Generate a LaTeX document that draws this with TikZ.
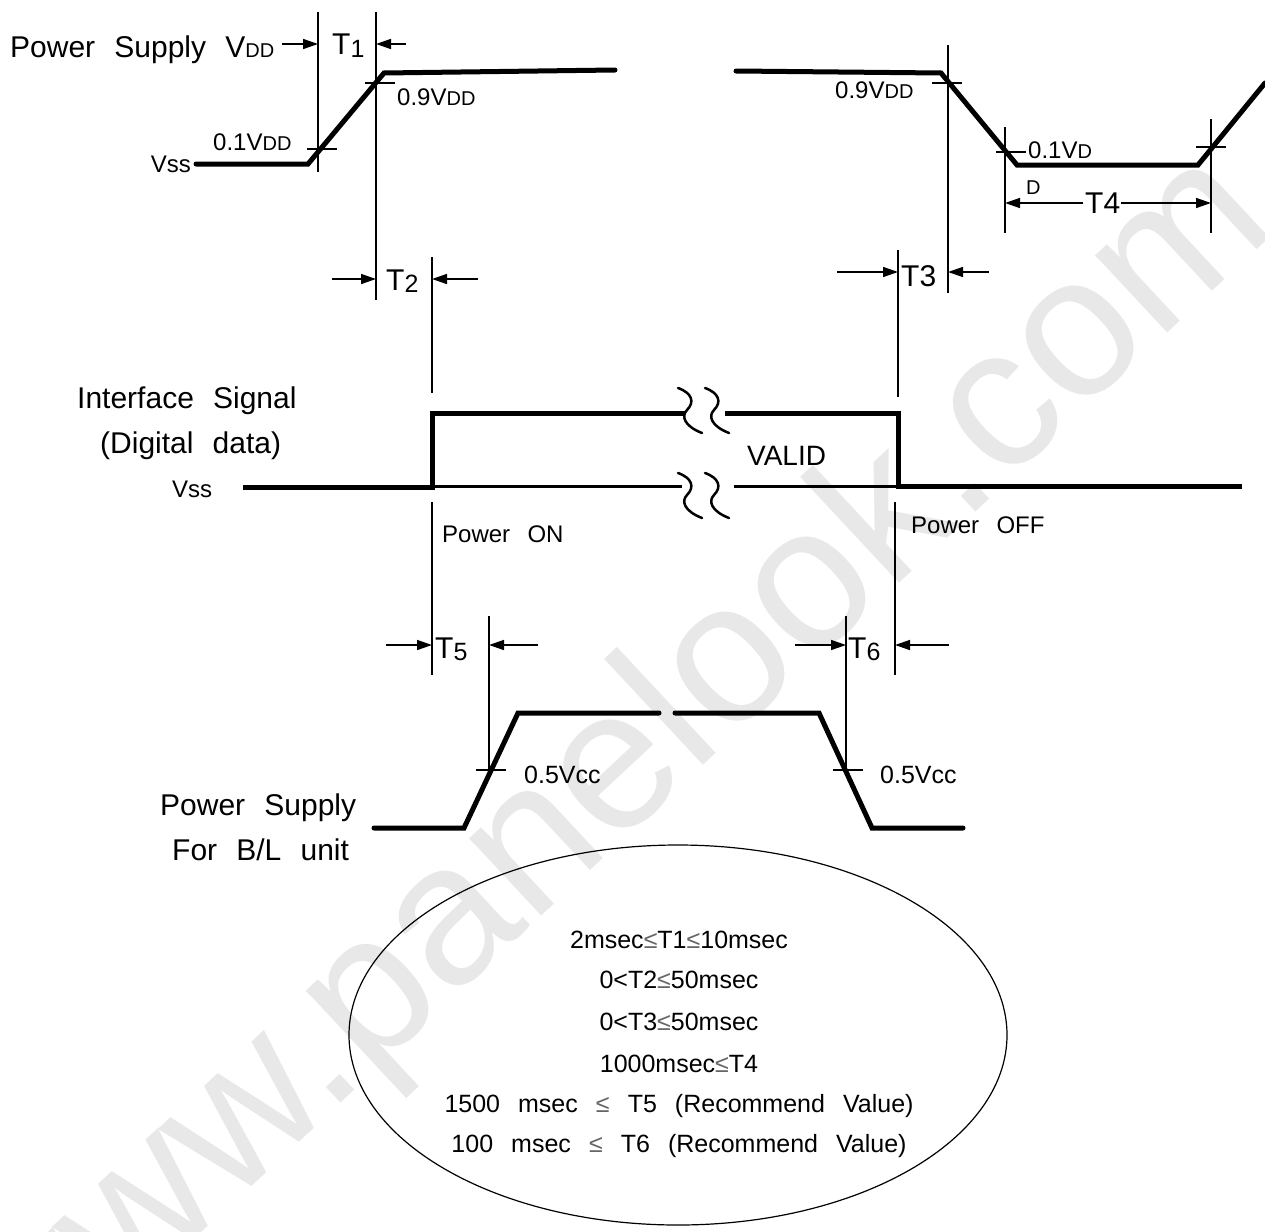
\documentclass[tikz,border=0pt]{standalone}
\usepackage{fontspec}
\setmainfont[WordSpace=2.6]{Liberation Sans}
\newfontfamily\widefont[WordSpace=2.3]{Liberation Sans}
\usetikzlibrary{arrows.meta}
\newcommand{\sub}[1]{{\fontsize{20}{21}\selectfont #1}}
\newcommand{\tsub}[1]{{\fontsize{25}{26}\selectfont\raisebox{-2pt}{#1}}}
\newcommand{\leqs}{{\color{black!60}≤}}
\tikzset{
  wave/.style={line width=5pt,line cap=round,line join=miter},
  datawave/.style={line width=5pt,line join=miter},
  guide/.style={line width=1.5pt},
  dimarrow/.style={-{Triangle[length=15pt,width=10pt]},line width=1.5pt},
  breakmark/.style={line width=2.5pt,line cap=round},
  smalllabel/.style={inner sep=0pt,anchor=base west,font=\fontsize{24}{28}\selectfont},
  biglabel/.style={inner sep=0pt,anchor=base west,font=\widefont\fontsize{30}{36}\selectfont},
  timelabel/.style={inner sep=0pt,anchor=base west,font=\fontsize{30}{36}\selectfont},
  limitline/.style={inner sep=0pt,anchor=base,font=\fontsize{25}{30}\selectfont},
  brk/.pic={\draw[breakmark] (0,0) .. controls (14,5) and (17,14) .. (9,22)
    .. controls (3,28) and (6,38) .. (24,45);}
}

\begin{document}
\begin{tikzpicture}[x=1pt,y=-1pt]
  \useasboundingbox (0,0) rectangle (1265,1231);
  % watermark
  \node[text=black!9,font=\fontsize{200}{200}\selectfont,rotate=43] (mark) at (614,778) {www.panelook.com};

  % power supply VDD
  \node[biglabel] (vddlabel) at (10,57) {Power Supply V\sub{DD}};
  \node[smalllabel,anchor=base east] (vsstop) at (191,172) {Vss};
  \draw[wave] (196,164) -- (308,164) -- (384,73) -- (615,70);
  \draw[wave] (736,71) -- (941,73) -- (1017,165) -- (1198,165) -- (1265,83);
  \draw[guide] (318,12) -- (318,172);
  \draw[guide] (376,12) -- (376,300);
  \draw[guide] (948,45) -- (948,293);
  \draw[guide] (1005,127) -- (1005,233);
  \draw[guide] (1211,119) -- (1211,233);
  \foreach \x/\y in {322/149,380/83,947/83,1011/152,1211/147,491/770,848/770}
    \draw[guide] (\x-15,\y) -- (\x+15,\y);
  \node[smalllabel] (lo1) at (213,150) {0.1V\sub{DD}};
  \node[smalllabel] (hi1) at (397,105) {0.9V\sub{DD}};
  \node[smalllabel] (hi2) at (835,98) {0.9V\sub{DD}};
  \node[smalllabel] (lo2) at (1028,158) {0.1V\sub{D}};
  \node[smalllabel] (lo2d) at (1026,194) {\sub{D}};

  % timing marks
  \draw[dimarrow] (282,44) -- (318,44);
  \draw[dimarrow] (406,44) -- (376,44);
  \node[timelabel] (t1) at (332,55) {T\tsub{1}};
  \draw[dimarrow] (332,279) -- (376,279);
  \draw[dimarrow] (478,279) -- (432,279);
  \node[timelabel] (t2) at (386,290) {T\tsub{2}};
  \draw[dimarrow] (837,272) -- (898,272);
  \draw[dimarrow] (989,272) -- (948,272);
  \node[timelabel] (t3) at (901,286) {T3};
  \draw[dimarrow] (1083,203) -- (1005,203);
  \draw[dimarrow] (1121,203) -- (1211,203);
  \node[timelabel] (t4) at (1085,213) {T4};

  % interface signal
  \node[biglabel] (iflabel) at (77,408) {Interface Signal};
  \node[biglabel] (dglabel) at (100,453) {(Digital data)};
  \node[smalllabel] (vssmid) at (172,497) {Vss};
  \draw[guide] (432,257) -- (432,393);
  \draw[guide] (432,502) -- (432,675);
  \draw[guide] (898,250) -- (898,397);
  \draw[guide] (895,502) -- (895,675);
  \draw[datawave] (243,487) -- (432,487) -- (432,413) -- (685,413);
  \draw[datawave] (725,413) -- (898,413) -- (898,486) -- (1242,486);
  \draw[line width=3pt] (432,486) -- (682,486);
  \draw[line width=3pt] (734,486) -- (898,486);
  \foreach \x in {678,705}
    \foreach \y in {388,473}
      \pic at (\x,\y) {brk};
  \node[timelabel,font=\fontsize{28}{34}\selectfont] (valid) at (747,465) {VALID};
  \node[smalllabel] (pon) at (442,542) {Power ON};
  \node[smalllabel] (poff) at (911,533) {Power OFF};

  % backlight supply
  \draw[guide] (489,616) -- (489,772);
  \draw[guide] (846,616) -- (846,772);
  \draw[dimarrow] (386,645) -- (432,645);
  \draw[dimarrow] (538,645) -- (489,645);
  \node[timelabel] (t5) at (435,658) {T\tsub{5}};
  \draw[dimarrow] (795,645) -- (846,645);
  \draw[dimarrow] (949,645) -- (895,645);
  \node[timelabel] (t6) at (848,658) {T\tsub{6}};
  \node[biglabel] (bl1) at (160,815) {Power Supply};
  \node[biglabel] (bl2) at (172,860) {For B/L unit};
  \draw[wave] (374,828) -- (464,828) -- (518,713) -- (659,713);
  \draw[wave] (675,713) -- (819,713) -- (872,828) -- (963,828);
  \node[smalllabel,font=\fontsize{25}{30}\selectfont] (half1) at (524,783) {0.5Vcc};
  \node[smalllabel,font=\fontsize{25}{30}\selectfont] (half2) at (880,783) {0.5Vcc};

  % limits
  \draw[line width=1.2pt] (678,1035) ellipse [x radius=329pt,y radius=190pt];
  \node[limitline] (lim1) at (679,948) {2msec\leqs T1\leqs 10msec};
  \node[limitline] (lim2) at (679,988) {0<T2\leqs 50msec};
  \node[limitline] (lim3) at (679,1030) {0<T3\leqs 50msec};
  \node[limitline] (lim4) at (679,1072) {1000msec\leqs T4};
  \node[limitline] (lim5) at (679,1112) {1500 msec \leqs{} T5 (Recommend Value)};
  \node[limitline] (lim6) at (679,1152) {100 msec \leqs{} T6 (Recommend Value)};
\end{tikzpicture}
\end{document}
